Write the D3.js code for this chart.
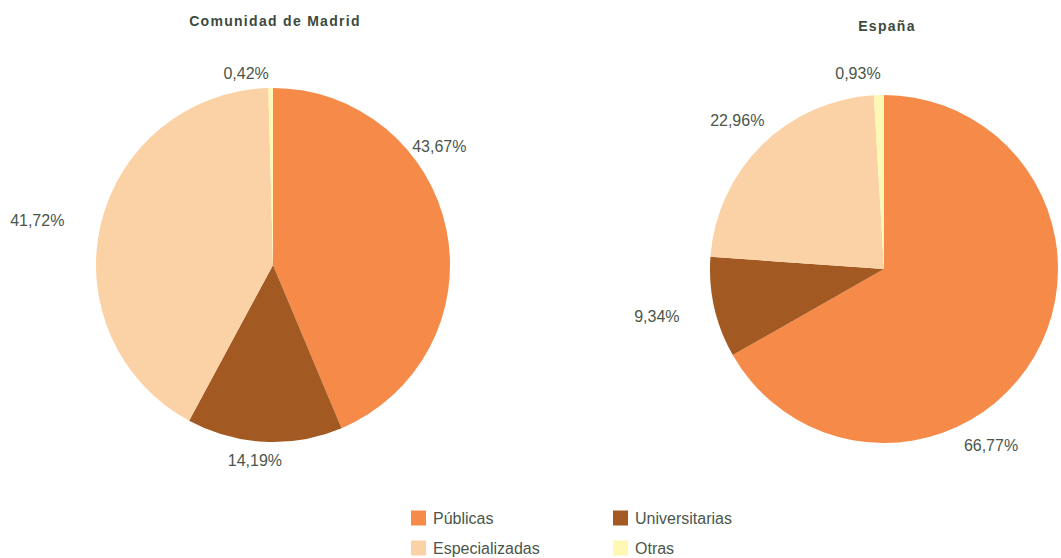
<!DOCTYPE html>
<html>
<head>
<meta charset="utf-8">
<script src="https://cdn.jsdelivr.net/npm/d3@7"></script>
<style>
  html, body { margin: 0; padding: 0; background: #ffffff; }
  svg { display: block; }
  text { font-family: "Liberation Sans", Arial, sans-serif; fill: #4a564c; }
</style>
</head>
<body>
<svg id="chart" width="1061" height="558"></svg>
<script>
// ---- Data ----
const categories = ["Públicas", "Universitarias", "Especializadas", "Otras"];
const madridValues = [43.67, 14.19, 41.72, 0.42];
const espanaValues = [66.77, 9.34, 22.96, 0.93];
const chartTitles = ["Comunidad de Madrid", "España"];
const legendOrder = ["Públicas", "Universitarias", "Especializadas", "Otras"];

// ---- Style / layout ----
const colors = ["#f68a48", "#a35a22", "#fbd2a6", "#fff8b4"];
const pies = [
  { title: chartTitles[0], values: madridValues, cx: 273, cy: 265, r: 177, titleX: 275, titleY: 21,
    // label placement: [angle in degrees clockwise from top, distance from centre]
    labelPlace: [[54.6, 204], [185.3, 196], [280.8, 240], [352, 193]] },
  { title: chartTitles[1], values: espanaValues, cx: 884, cy: 269, r: 174, titleX: 887, titleY: 26,
    labelPlace: [[148.7, 206], [258.3, 232], [315.4, 209], [352.4, 197]] }
];

const svg = d3.select("#chart");
const color = d3.scaleOrdinal().domain(categories).range(colors);
const fmt = v => d3.format(".2f")(v).replace(".", ",") + "%";

const pieGen = d3.pie().sort(null).value(d => d.value);

pies.forEach(p => {
  const data = categories.map((c, i) => ({ cat: c, value: p.values[i] }));
  const arcs = pieGen(data);
  const arc = d3.arc().innerRadius(0).outerRadius(p.r);
  const g = svg.append("g").attr("transform", `translate(${p.cx},${p.cy})`);
  g.selectAll("path").data(arcs).enter().append("path")
    .attr("d", arc)
    .attr("fill", d => color(d.data.cat));

  g.selectAll("text.lbl").data(arcs).enter().append("text")
    .attr("class", "lbl")
    .attr("x", (d, i) => Math.sin(p.labelPlace[i][0] * Math.PI / 180) * p.labelPlace[i][1])
    .attr("y", (d, i) => -Math.cos(p.labelPlace[i][0] * Math.PI / 180) * p.labelPlace[i][1])
    .attr("text-anchor", "middle")
    .attr("dominant-baseline", "central")
    .style("font-size", "16px")
    .text(d => fmt(d.data.value));

  svg.append("text")
    .attr("x", p.titleX).attr("y", p.titleY)
    .attr("text-anchor", "middle")
    .attr("dominant-baseline", "central")
    .style("font-size", "14px")
    .style("font-weight", "bold")
    .style("letter-spacing", "1.3px")
    .style("fill", "#3c4a3e")
    .text(p.title);
});

// ---- Legend ----
const legendCols = [411, 613];
const legendRows = [518, 548];
const legend = svg.append("g");
legendOrder.forEach((cat, i) => {
  const x = legendCols[i % 2], y = legendRows[Math.floor(i / 2)];
  legend.append("rect")
    .attr("x", x).attr("y", y - 7.5).attr("width", 15).attr("height", 15)
    .attr("fill", color(cat));
  legend.append("text")
    .attr("x", x + 22).attr("y", y)
    .attr("dominant-baseline", "central")
    .style("font-size", "16px")
    .text(cat);
});
</script>
</body>
</html>
